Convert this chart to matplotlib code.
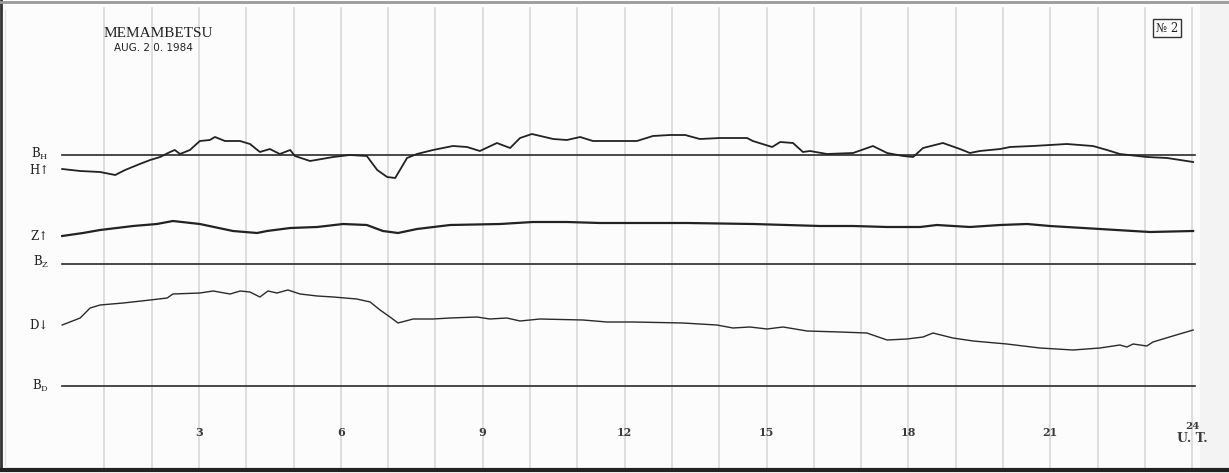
import matplotlib.pyplot as plt
import numpy as np

# Hourly grid, U.T.
hour_ticks = [3, 6, 9, 12, 15, 18, 21, 24]
grid_hours = list(range(1, 25))

# H trace: hour, deflection from B_H baseline
h_hours = [0.11, 0.49, 0.91, 1.23, 1.44, 1.75, 1.97, 2.18, 2.39, 2.49, 2.60, 2.81, 3.02, 3.23, 3.34,
           3.55, 3.87, 4.08, 4.29, 4.50, 4.71, 4.93, 5.03, 5.35, 5.84, 6.19, 6.55, 6.77, 6.98, 7.15,
           7.25, 7.40, 7.61, 7.95, 8.37, 8.67, 8.94, 9.30, 9.58, 9.79, 10.04, 10.49, 10.78, 11.06,
           11.33, 11.84, 12.26, 12.60, 12.96, 13.28, 13.59, 14.02, 14.59, 14.71, 15.12, 15.29, 15.56,
           15.77, 15.92, 16.28, 16.83, 17.25, 17.55, 17.89, 18.10, 18.31, 18.73, 19.09, 19.30, 19.51,
           19.94, 20.15, 20.63, 21.35, 21.90, 22.20, 22.47, 23.04, 23.47, 24.02]
h_vals = [-14, -16, -17, -20, -15, -9, -5, -2, 3, 5, 1, 5, 14, 15, 18,
          14, 14, 11, 3, 6, 1, 5, -1, -6, -2, 0, -1, -15, -22, -23,
          -15, -3, 1, 5, 9, 8, 4, 12, 7, 17, 21, 16, 15, 18,
          14, 14, 14, 19, 20, 20, 16, 17, 17, 14, 8, 13, 12,
          3, 4, 1, 2, 9, 2, -1, -2, 7, 12, 6, 2, 4,
          6, 8, 9, 11, 9, 5, 1, -2, -3, -7]

# Z trace: hour, deflection from B_Z baseline
z_hours = [0.11, 0.55, 0.91, 1.61, 2.11, 2.45, 3.02, 3.72, 4.23, 4.44, 4.93, 5.50, 6.05, 6.55, 6.89,
           7.21, 7.61, 8.31, 9.37, 10.06, 10.78, 11.48, 12.54, 13.32, 14.71, 15.43, 16.13, 16.83,
           17.55, 18.25, 18.60, 19.30, 19.94, 20.51, 20.99, 22.05, 22.75, 23.11, 24.02]
z_vals = [28, 31, 34, 38, 40, 43, 40, 33, 31, 33, 36, 37, 40, 39, 33,
          31, 35, 39, 40, 42, 42, 41, 41, 41, 40, 39, 38, 38,
          37, 37, 39, 37, 39, 40, 38, 35, 33, 32, 33]

# D trace: hour, deflection from B_D baseline
d_hours = [0.11, 0.49, 0.70, 0.91, 1.40, 1.97, 2.33, 2.45, 3.02, 3.30, 3.66, 3.87, 4.08, 4.29, 4.46,
           4.65, 4.88, 5.14, 5.50, 5.84, 6.34, 6.62, 6.83, 7.04, 7.21, 7.53, 7.95, 8.31, 8.88, 9.15,
           9.51, 9.79, 10.21, 11.12, 11.63, 12.18, 13.23, 13.95, 14.29, 14.65, 15.01, 15.35, 15.86,
           16.55, 17.12, 17.55, 17.97, 18.31, 18.52, 18.94, 19.37, 20.08, 20.78, 21.48, 22.05, 22.47,
           22.62, 22.75, 23.04, 23.17, 23.59, 24.02]
d_vals = [61, 68, 78, 81, 83, 86, 88, 92, 93, 95, 92, 95, 94, 89, 95,
          93, 96, 92, 90, 89, 87, 84, 76, 69, 63, 67, 67, 68, 69, 67,
          68, 65, 67, 66, 64, 64, 63, 61, 58, 59, 57, 59, 55,
          54, 53, 46, 47, 49, 53, 48, 45, 42, 38, 36, 38, 41,
          39, 42, 40, 44, 50, 56]

W, H = 1229, 473
px = 47.3          # pixels per hour
x0 = 57            # pixel of hour 0


def hx(x):
    return (x - x0) / px


def py(y):
    return H - y


base_h, base_z, base_d = py(155), py(264), py(386)

fig = plt.figure(figsize=(W / 100, H / 100), dpi=100)
fig.patch.set_facecolor('#fcfcfc')
ax = fig.add_axes([0, 0, 1, 1])
ax.set_xlim(hx(0), hx(W))
ax.set_ylim(0, H)
ax.axis('off')

# slightly greyer strip past the last hour line
ax.axvspan(hx(1200), hx(W), color='#f3f3f3', zorder=0, lw=0)

# hour grid
for g in grid_hours:
    ax.plot([g, g], [py(468), py(8)], color='#d6d6d6', lw=1.1, zorder=1)

# edges of the sheet
ax.plot([hx(1), hx(1)], [py(470), py(0)], color='#333333', lw=2)
ax.plot([hx(0), hx(W)], [py(470), py(470)], color='#222222', lw=3)
ax.plot([hx(0), hx(W)], [py(2), py(2)], color='#9a9a9a', lw=2)
ax.plot([hx(5), hx(5)], [py(465), py(10)], color='#e4e4e4', lw=1)

# baselines
t0, t1 = 0.1, 24.06
for b in (base_h, base_z, base_d):
    ax.plot([t0, t1], [b, b], color='#2a2a2a', lw=1.2, zorder=2)

# traces
ax.plot(h_hours, base_h + np.array(h_vals), color='#222222', lw=1.3, zorder=3)
ax.plot(z_hours, base_z + np.array(z_vals), color='#222222', lw=1.6, zorder=3)
ax.plot(d_hours, base_d + np.array(d_vals), color='#2a2a2a', lw=1.0, zorder=3)

# left labels
lab = dict(ha='right', va='center', fontsize=8.5, family='DejaVu Serif', color='#222222')
ax.text(hx(49), py(154), r'B$_{\mathregular{H}}$', **lab)
ax.text(hx(49), py(170), 'H↑', **lab)
ax.text(hx(49), py(237), 'Z↑', **lab)
ax.text(hx(49), py(262), r'B$_{\mathregular{Z}}$', **lab)
ax.text(hx(49), py(325), 'D↓', **lab)
ax.text(hx(49), py(386), r'B$_{\mathregular{D}}$', **lab)

# hour labels
for t in hour_ticks[:-1]:
    ax.text(t, py(432), str(t), ha='center', va='center', fontsize=8,
            family='DejaVu Serif', weight='bold', color='#3a3a3a')
ax.text(24, py(426), '24', ha='center', va='center', fontsize=7.5,
        family='DejaVu Serif', weight='bold', color='#3a3a3a')
ax.text(hx(1192), py(438), 'U. T.', ha='center', va='center', fontsize=9,
        family='DejaVu Serif', weight='bold', color='#3a3a3a')

# header
ax.text(hx(104), py(34), 'MEMAMBETSU', ha='left', va='center', fontsize=11,
        family='Liberation Serif', color='#222222')
ax.text(hx(114), py(48), 'AUG. 2 0. 1984', ha='left', va='center', fontsize=7.5,
        family='Liberation Sans Narrow', color='#222222')
ax.text(hx(1167), py(28), '№ 2', ha='center', va='center', fontsize=8.5,
        family='DejaVu Serif', color='#222222',
        bbox=dict(boxstyle='square,pad=0.25', fc='none', ec='#333333', lw=1))

fig.savefig('out.png', dpi=100, facecolor=fig.get_facecolor())
